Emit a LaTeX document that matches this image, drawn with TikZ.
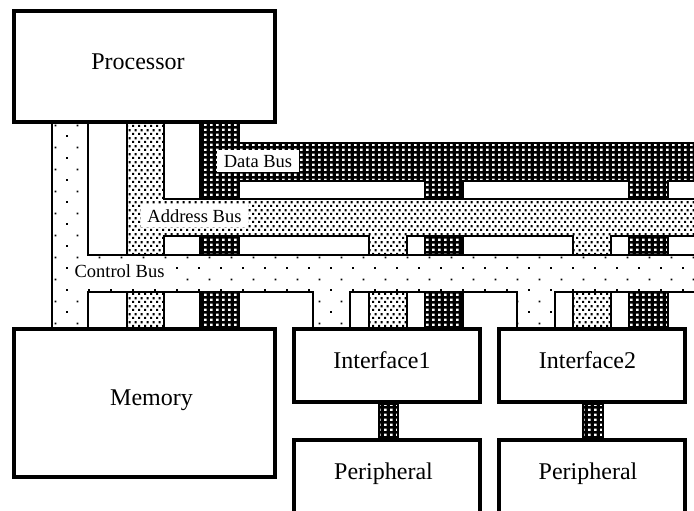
\documentclass[tikz,border=0pt]{standalone}
\usepackage{fontspec}
\setmainfont{Liberation Serif}
\usetikzlibrary{patterns}

% sparse dots (control bus)
\pgfdeclarepatternformonly{ctrldots}{\pgfpointorigin}{\pgfpoint{22pt}{22pt}}{\pgfpoint{22pt}{22pt}}{
  \pgfpathrectangle{\pgfpoint{0pt}{0pt}}{\pgfpoint{2pt}{2pt}}
  \pgfpathrectangle{\pgfpoint{11pt}{11pt}}{\pgfpoint{2pt}{2pt}}
  \pgfusepath{fill}
}
% dense dots (address bus)
\pgfdeclarepatternformonly{addrdots}{\pgfpointorigin}{\pgfpoint{6pt}{8pt}}{\pgfpoint{6pt}{8pt}}{
  \pgfpathrectangle{\pgfpoint{0pt}{0pt}}{\pgfpoint{2.5pt}{2.5pt}}
  \pgfpathrectangle{\pgfpoint{3pt}{4pt}}{\pgfpoint{2.5pt}{2.5pt}}
  \pgfusepath{fill}
}
% grid of holes (data bus, drawn white on black)
\pgfdeclarepatternformonly{datadots}{\pgfpointorigin}{\pgfpoint{6pt}{5pt}}{\pgfpoint{6pt}{5pt}}{
  \pgfpathrectangle{\pgfpoint{0pt}{0pt}}{\pgfpoint{3pt}{2.8pt}}
  \pgfusepath{fill}
}

\tikzset{
  box/.style={draw, line width=4pt, fill=white, inner sep=0pt},
  boxtext/.style={font=\fontsize{24}{28}\selectfont, anchor=base, inner sep=0pt},
  buslabel/.style={fill=white, font=\fontsize{18.5}{22}\selectfont, anchor=base,
                   inner xsep=6.5pt, inner ysep=5pt},
  datafill/.style={preaction={fill=black}, pattern=datadots, pattern color=white},
  addrfill/.style={preaction={fill=white}, pattern=addrdots, pattern color=black},
  ctrlfill/.style={preaction={fill=white}, pattern=ctrldots, pattern color=black},
  busline/.style={line width=1.1pt},
}

\begin{document}
\begin{tikzpicture}[x=1pt, y=-1pt]
\useasboundingbox (0,0) rectangle (694,511);
\clip (0,0) rectangle (694,511);
\fill[white] (0,0) rectangle (694,511);

% ---------------- Data bus ----------------
\fill[datafill] (200,122) rectangle (239,327)
                (239,143) rectangle (700,181)
                (425,181) rectangle (463,327)
                (629,181) rectangle (668,327);
\draw[busline] (200,122) -- (200,327);
\draw[busline] (239,122) -- (239,143) -- (700,143);
\draw[busline] (239,327) -- (239,181) -- (425,181) -- (425,327);
\draw[busline] (463,327) -- (463,181) -- (629,181) -- (629,327);
\draw[busline] (668,327) -- (668,181) -- (700,181);

% ---------------- Address bus ----------------
\fill[addrfill] (127,122) rectangle (164,327)
                (164,199) rectangle (700,236)
                (369,236) rectangle (407,327)
                (573,236) rectangle (611,327);
\draw[busline] (127,122) -- (127,327);
\draw[busline] (164,122) -- (164,199) -- (700,199);
\draw[busline] (164,327) -- (164,236) -- (369,236) -- (369,327);
\draw[busline] (407,327) -- (407,236) -- (573,236) -- (573,327);
\draw[busline] (611,327) -- (611,236) -- (700,236);

% ---------------- Control bus ----------------
\fill[ctrlfill] (52,122) rectangle (88,327)
                (88,255) rectangle (700,292)
                (313,292) rectangle (350,327)
                (517,292) rectangle (555,327);
\draw[busline] (52,122) -- (52,327);
\draw[busline] (88,122) -- (88,255) -- (700,255);
\draw[busline] (88,327) -- (88,292) -- (313,292) -- (313,327);
\draw[busline] (350,327) -- (350,292) -- (517,292) -- (517,327);
\draw[busline] (555,327) -- (555,292) -- (700,292);

% ---------------- Bus labels ----------------
\node[buslabel] (dbl) at (258,167) {Data Bus};
\node[buslabel] (abl) at (194.5,222) {Address Bus};
\node[buslabel] (cbl) at (119.5,277) {Control Bus};

% ---------------- Boxes ----------------
\node[box, minimum width=261pt, minimum height=111pt] (proc) at (144.5,66.5) {};
\node[box, minimum width=261pt, minimum height=148pt] (mem)  at (144.5,403) {};
\node[box, minimum width=186pt, minimum height=73pt]  (if1)  at (387,365.5) {};
\node[box, minimum width=186pt, minimum height=73pt]  (if2)  at (592,365.5) {};
\node[box, minimum width=186pt, minimum height=120pt] (per1) at (387,500) {};
\node[box, minimum width=186pt, minimum height=120pt] (per2) at (592,500) {};

\node[boxtext] (proct) at (138,70)    {Processor};
\node[boxtext] (memt)  at (151.5,405) {Memory};
\node[boxtext] (if1t)  at (382,368)   {Interface1};
\node[boxtext] (if2t)  at (587.5,368) {Interface2};
\node[boxtext] (per1t) at (383.5,479) {Peripheral};
\node[boxtext] (per2t) at (588,479)   {Peripheral};

% ---------------- Interface -> Peripheral links ----------------
\draw[busline, datafill] ([xshift=-8pt]if1.south) rectangle ([xshift=11pt]per1.north);
\draw[busline, datafill] ([xshift=-9pt]if2.south) rectangle ([xshift=11pt]per2.north);
\end{tikzpicture}
\end{document}
